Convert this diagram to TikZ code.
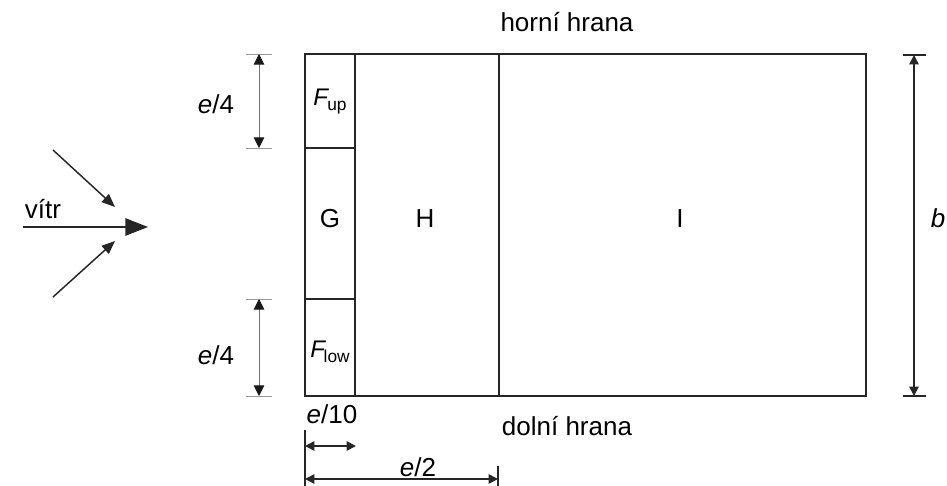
\documentclass[tikz,border=0pt]{standalone}
\usepackage{fontspec}
\setmainfont{Liberation Sans}
\usetikzlibrary{arrows.meta}
\begin{document}
\begin{tikzpicture}[x=0.75pt,y=-0.75pt,
  wall/.style={draw=black!85,line width=1.4pt},
  lbl/.style={font=\fontsize{19.5}{22}\selectfont,inner sep=0pt},
  dimthin/.style={draw=black!55,line width=0.7pt,{Triangle[length=8pt,width=8pt,color=black!90,fill=black!90]}-{Triangle[length=8pt,width=8pt,color=black!90,fill=black!90]}},
  dimthick/.style={draw=black!85,line width=1.3pt,{Triangle[length=7pt,width=7pt]}-{Triangle[length=7pt,width=7pt]}},
  tickthin/.style={draw=black!40,line width=0.7pt},
  tickthick/.style={draw=black!85,line width=1.3pt},
  wind/.style={draw=black!85,line width=1.4pt,-{Triangle[length=17pt,width=13pt]}},
  windsmall/.style={draw=black!85,line width=1.1pt,-{Triangle[length=10pt,width=8pt]}}]
\useasboundingbox (0,0) rectangle (947,486);
% corners
\coordinate (tl) at (305,54);
\coordinate (br) at (866,396);
\coordinate (gt) at (355,54);
\coordinate (gb) at (355,396);
\coordinate (ht) at (499,54);
\coordinate (hb) at (499,396);
\coordinate (u1) at (305,148);
\coordinate (u2) at (355,148);
\coordinate (l1) at (305,299);
\coordinate (l2) at (355,299);
\draw[wall] (tl) rectangle (br);
\draw[wall] (gt) -- (gb);
\draw[wall] (ht) -- (hb);
\draw[wall] (u1) -- (u2);
\draw[wall] (l1) -- (l2);
% zone labels
\node[lbl] (fup) at (330,102) {\fontsize{18}{20}\selectfont\itshape F\kern-0.5pt\raisebox{-0.4ex}{\fontsize{13}{14}\selectfont\upshape up}};
\node[lbl] (flow) at (330,352) {\fontsize{18}{20}\selectfont\itshape F\kern-1pt\raisebox{-0.4ex}{\fontsize{13}{14}\selectfont\upshape low}};
\node[lbl] (g) at (330,219) {G};
\node[lbl] (h) at (425,219) {H};
\node[lbl] (i) at (680,219) {I};
\node[lbl] (top) at (567,22) {horní hrana};
\node[lbl] (bot) at (567,426) {dolní hrana};
% left dimensions
\coordinate (a1) at (259,54);
\coordinate (a2) at (259,148);
\coordinate (a3) at (259,299);
\coordinate (a4) at (259,396);
\draw[tickthin] (246,54) -- (272,54);
\draw[tickthin] (246,148) -- (272,148);
\draw[tickthin] (246,299) -- (272,299);
\draw[tickthin] (246,396) -- (272,396);
\draw[dimthin] (a1) -- (a2);
\draw[dimthin] (a3) -- (a4);
\node[lbl] (e4a) at (216,104) {\textit{e}/4};
\node[lbl] (e4b) at (216,355) {\textit{e}/4};
% right dimension
\coordinate (b1) at (914,55);
\coordinate (b2) at (914,396);
\draw[tickthick] (903,55) -- (926,55);
\draw[tickthick] (903,396) -- (926,396);
\draw[dimthick] (b1) -- (b2);
\node[lbl] (bl) at (938,218) {\textit{b}};
% bottom dimensions
\draw[tickthick] (305,430) -- (305,486);
\draw[tickthick] (498,466) -- (498,486);
\coordinate (c1) at (305,446);
\coordinate (c2) at (356,446);
\coordinate (d1) at (305,479);
\coordinate (d2) at (498,479);
\draw[dimthick] (c1) -- (c2);
\draw[dimthick] (d1) -- (d2);
\node[lbl] (e10) at (332,414) {\textit{e}/10};
\node[lbl] (e2) at (418,467) {\textit{e}/2};
% wind
\coordinate (w0) at (23,227);
\coordinate (w1) at (148,227);
\coordinate (wa) at (53,150);
\coordinate (wb) at (115,207);
\coordinate (wc) at (53,297);
\coordinate (wd) at (115,241);
\draw[wind] (w0) -- (w1);
\draw[windsmall] (wa) -- (wb);
\draw[windsmall] (wc) -- (wd);
\node[lbl] (vitr) at (43,209) {vítr};
\end{tikzpicture}
\end{document}
